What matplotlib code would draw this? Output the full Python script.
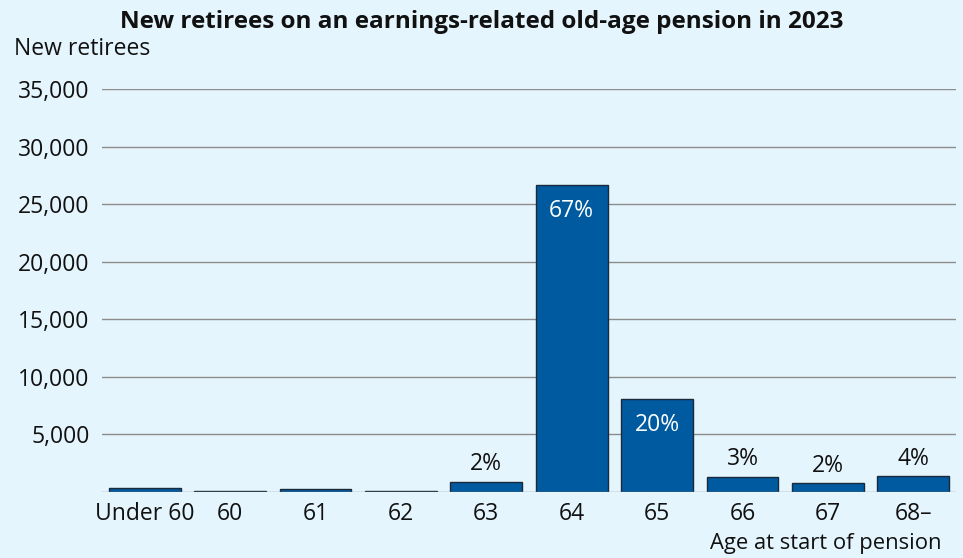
import matplotlib

matplotlib.use("Agg")
import matplotlib.pyplot as plt
from matplotlib.ticker import FuncFormatter

ages = ["Under 60", "60", "61", "62", "63", "64", "65", "66", "67", "68–"]
new_retirees = [320, 100, 230, 80, 890, 26650, 8050, 1330, 760, 1390]
share_labels = ["", "", "", "", "2%", "67%", "20%", "3%", "2%", "4%"]
y_ticks = [5000, 10000, 15000, 20000, 25000, 30000, 35000]

BG = "#e5f5fd"
BAR = "#005aa0"
TEXT = "#111111"

plt.rcParams["font.family"] = ["Open Sans", "DejaVu Sans"]

fig = plt.figure(figsize=(9.63, 5.58), dpi=100, facecolor=BG)
ax = fig.add_axes([102 / 963, 1 - 492 / 558, 854 / 963, 403 / 558], facecolor=BG)

x = range(len(ages))
bars = ax.bar(x, new_retirees, width=0.84, color=BAR, edgecolor="#1a2a3a",
              linewidth=1.0, zorder=3)

# shares printed inside the tall bars, above the short ones
for bar, value, label in zip(bars, new_retirees, share_labels):
    if not label:
        continue
    cx = bar.get_x() + bar.get_width() / 2
    if value > 5000:
        ax.text(cx, value - 2250, label, ha="center", va="center", color="white",
                fontsize=16.5)
    else:
        ax.text(cx, value + 1500, label, ha="center", va="center", color=TEXT,
                fontsize=16.5)

ax.set_xlim(-0.5, len(ages) - 0.5)
ax.set_ylim(0, 35000)
ax.set_yticks(y_ticks)
ax.yaxis.set_major_formatter(FuncFormatter(lambda v, _: f"{int(v):,}"))
ax.set_xticks(list(x))
ax.set_xticklabels(ages)
ax.tick_params(axis="both", length=0, labelsize=16.5, colors=TEXT)
ax.tick_params(axis="y", pad=9)
ax.tick_params(axis="x", pad=7)

ax.grid(axis="y", color="#8c8c8c", linewidth=1.0, zorder=0)
ax.axhline(0, color="#8c8c8c", linewidth=1.0, zorder=4)
for spine in ax.spines.values():
    spine.set_visible(False)

fig.text(482 / 963, 1 - 22 / 558, "New retirees on an earnings-related old-age pension in 2023",
         ha="center", va="center", fontsize=17.5, fontweight="bold", color=TEXT)
fig.text(14 / 963, 1 - 49 / 558, "New retirees", ha="left", va="center",
         fontsize=16.5, color=TEXT)
fig.text(941 / 963, 1 - 543 / 558, "Age at start of pension", ha="right", va="center",
         fontsize=15.8, color=TEXT)

fig.savefig("out.png", dpi=100, facecolor=BG)
